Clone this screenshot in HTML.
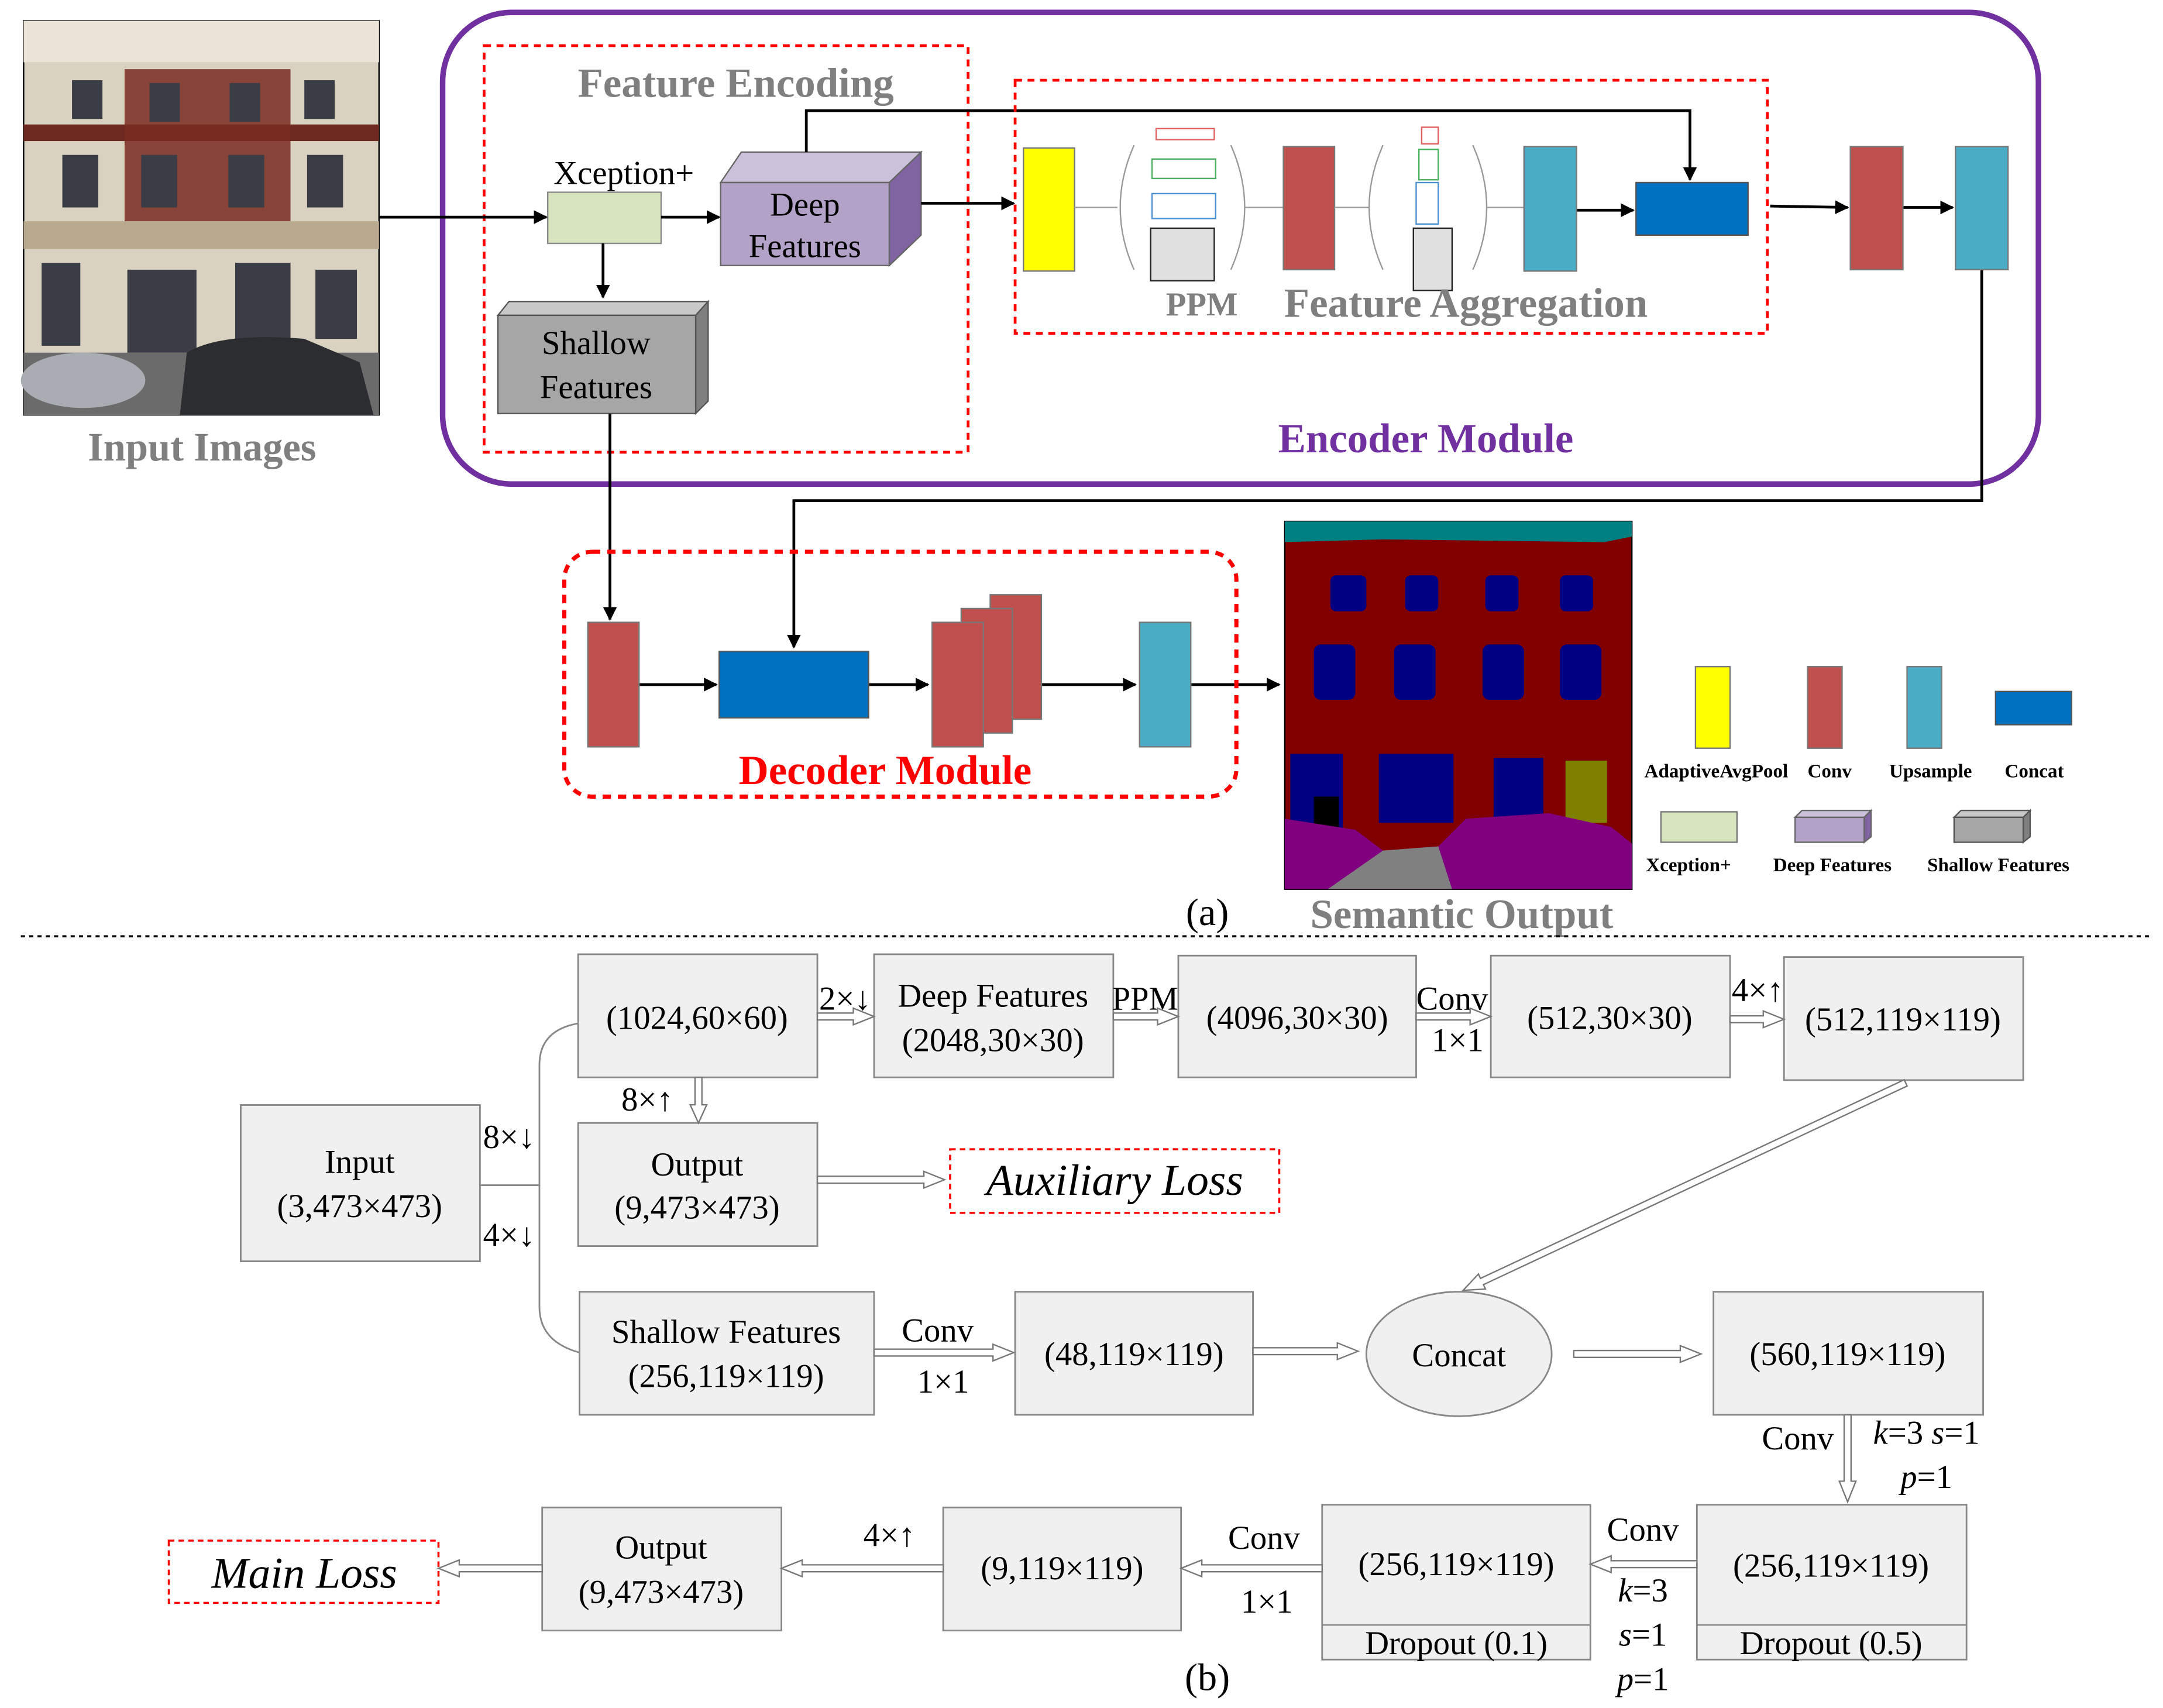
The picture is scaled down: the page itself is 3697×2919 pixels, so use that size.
<!DOCTYPE html>
<html><head><meta charset="utf-8"><style>
html,body{margin:0;padding:0;background:#fff}
svg{display:block}
text{font-family:"Liberation Serif",serif}
</style></head><body>
<svg id="s" width="3697" height="2919" viewBox="0 0 1564 1235" xmlns="http://www.w3.org/2000/svg">
<defs>
<marker id="ah" markerWidth="10" markerHeight="10" refX="9" refY="5" orient="auto" markerUnits="userSpaceOnUse" viewBox="0 0 10 10"><path d="M0,0 L10,5 L0,10 Z" fill="#000"/></marker>
</defs>
<rect width="1564" height="1235" fill="#fff"/>
<!-- Input image -->
<g>
<rect x="17" y="15" width="257" height="285" fill="#d9d2c0" stroke="#000"/>
<rect x="17" y="15" width="257" height="30" fill="#e9e4d6"/>
<rect x="17" y="90" width="257" height="12" fill="#6e2a20"/>
<rect x="90" y="50" width="120" height="110" fill="#7a2b22" opacity="0.85"/>
<rect x="17" y="160" width="257" height="20" fill="#b8a98f"/>
<g fill="#3a3d45">
<rect x="52" y="58" width="22" height="28"/><rect x="108" y="60" width="22" height="28"/><rect x="166" y="60" width="22" height="28"/><rect x="220" y="58" width="22" height="28"/>
<rect x="45" y="112" width="26" height="38"/><rect x="102" y="112" width="26" height="38"/><rect x="165" y="112" width="26" height="38"/><rect x="222" y="112" width="26" height="38"/>
<rect x="30" y="190" width="28" height="60"/><rect x="92" y="195" width="50" height="60"/><rect x="170" y="190" width="40" height="60"/><rect x="228" y="195" width="30" height="50"/>
</g>
<rect x="17" y="255" width="257" height="45" fill="#6b6b6b"/>
<ellipse cx="60" cy="275" rx="45" ry="20" fill="#a9adb3"/>
<path d="M130,300 L135,255 Q160,240 220,245 L260,262 L270,300 Z" fill="#2b2d30"/>
</g>
<text x="146" y="333" font-size="29" font-weight="bold" fill="#7f7f7f" text-anchor="middle">Input Images</text>
<!-- Encoder -->
<rect x="320" y="9" width="1154" height="341" rx="50" fill="none" stroke="#7030a0" stroke-width="4"/>
<rect x="350" y="33" width="350" height="294" fill="none" stroke="#ff0000" stroke-width="2" stroke-dasharray="5,4"/>
<text x="532" y="70" font-size="30" font-weight="bold" fill="#7f7f7f" text-anchor="middle">Feature Encoding</text>
<text x="451" y="133" font-size="24" text-anchor="middle">Xception+</text>
<rect x="396" y="139" width="82" height="37" fill="#d7e4bd" stroke="#8a8a8a"/>
<polygon points="521,132 536,110 666,110 643,132" fill="#ccc1da" stroke="#666"/>
<polygon points="643,132 666,110 666,170 643,192" fill="#8064a2" stroke="#666"/>
<rect x="521" y="132" width="122" height="60" fill="#b3a2c7" stroke="#666"/>
<text x="582" y="156" font-size="24" text-anchor="middle">Deep</text>
<text x="582" y="186" font-size="24" text-anchor="middle">Features</text>
<polygon points="360,228 368,218 512,218 503,228" fill="#c8c8c8" stroke="#555"/>
<polygon points="503,228 512,218 512,290 503,299" fill="#7f7f7f" stroke="#555"/>
<rect x="360" y="228" width="143" height="71" fill="#a6a6a6" stroke="#555"/>
<text x="431" y="256" font-size="24" text-anchor="middle">Shallow</text>
<text x="431" y="288" font-size="24" text-anchor="middle">Features</text>
<g stroke="#000" stroke-width="2" fill="none" marker-end="url(#ah)">
<line x1="274" y1="157" x2="395" y2="157"/>
<line x1="478" y1="157" x2="520" y2="157"/>
<line x1="436" y1="176" x2="436" y2="215"/>
<line x1="666" y1="147" x2="733" y2="147"/>
<polyline points="583,110 583,80 1222,80 1222,130"/>
<line x1="441" y1="299" x2="441" y2="448"/>
<line x1="1140" y1="152" x2="1181" y2="152"/>
<line x1="1280" y1="149" x2="1336" y2="150"/>
<line x1="1376" y1="150" x2="1412" y2="150"/>
<polyline points="1433,195 1433,362 574,362 574,468"/>
<line x1="462" y1="495" x2="518" y2="495"/>
<line x1="628" y1="495" x2="671" y2="495"/>
<line x1="753" y1="495" x2="821" y2="495"/>
<line x1="861" y1="495" x2="925" y2="495"/>
</g>
<rect x="734" y="58" width="544" height="183" fill="none" stroke="#ff0000" stroke-width="2" stroke-dasharray="5,4"/>
<rect x="740" y="107" width="37" height="89" fill="#ffff00" stroke="#777"/>
<line x1="777" y1="150" x2="808" y2="150" stroke="#999"/>
<path d="M820,105 Q800,150 820,195 M890,105 Q910,150 890,195" fill="none" stroke="#999"/>
<rect x="836" y="93" width="42" height="8" fill="#fff" stroke="#e06060"/>
<rect x="833" y="115" width="46" height="14" fill="#fff" stroke="#4caf60"/>
<rect x="833" y="140" width="46" height="18" fill="#fff" stroke="#4a90d0"/>
<rect x="832" y="165" width="46" height="38" fill="#e0e0e0" stroke="#222"/>
<line x1="900" y1="150" x2="928" y2="150" stroke="#999"/>
<rect x="928" y="106" width="37" height="89" fill="#c0504d" stroke="#777"/>
<line x1="965" y1="150" x2="990" y2="150" stroke="#999"/>
<path d="M1000,105 Q980,150 1000,195 M1065,105 Q1085,150 1065,195" fill="none" stroke="#999"/>
<rect x="1028" y="92" width="12" height="12" fill="#fff" stroke="#e06060"/>
<rect x="1026" y="108" width="14" height="22" fill="#fff" stroke="#4caf60"/>
<rect x="1024" y="132" width="16" height="30" fill="#fff" stroke="#4a90d0"/>
<rect x="1022" y="165" width="28" height="45" fill="#e0e0e0" stroke="#222"/>
<line x1="1075" y1="150" x2="1102" y2="150" stroke="#999"/>
<rect x="1102" y="106" width="38" height="90" fill="#4bacc6" stroke="#777"/>
<rect x="1183" y="132" width="81" height="38" fill="#0070c0" stroke="#555"/>
<rect x="1338" y="106" width="38" height="89" fill="#c0504d" stroke="#777"/>
<rect x="1414" y="106" width="38" height="89" fill="#4bacc6" stroke="#777"/>
<text x="869" y="228" font-size="24" font-weight="bold" fill="#7f7f7f" text-anchor="middle">PPM</text>
<text x="1060" y="229" font-size="30" font-weight="bold" fill="#7f7f7f" text-anchor="middle">Feature Aggregation</text>
<text x="1031" y="327" font-size="30" font-weight="bold" fill="#7030a0" text-anchor="middle">Encoder Module</text>
<!-- Decoder -->
<rect x="408" y="399" width="486" height="177" rx="20" fill="none" stroke="#ff0000" stroke-width="3" stroke-dasharray="6,5"/>
<rect x="425" y="450" width="37" height="90" fill="#c0504d" stroke="#777"/>
<rect x="520" y="471" width="108" height="48" fill="#0070c0" stroke="#555"/>
<rect x="716" y="430" width="37" height="90" fill="#c0504d" stroke="#777"/>
<rect x="695" y="440" width="37" height="90" fill="#c0504d" stroke="#777"/>
<rect x="674" y="450" width="37" height="90" fill="#c0504d" stroke="#777"/>
<rect x="824" y="450" width="37" height="90" fill="#4bacc6" stroke="#777"/>
<text x="640" y="567" font-size="30" font-weight="bold" fill="#ff0000" text-anchor="middle">Decoder Module</text>
<!-- Semantic output -->
<rect x="929" y="377" width="251" height="266" fill="#800000" stroke="#000"/>
<polygon points="929,377 1180,377 1180,388 1160,392 1000,390 929,392" fill="#008080"/>
<g fill="#000080">
<rect x="962" y="416" width="26" height="26" rx="4"/><rect x="1016" y="416" width="24" height="26" rx="4"/><rect x="1074" y="416" width="24" height="26" rx="4"/><rect x="1128" y="416" width="24" height="26" rx="4"/>
<rect x="950" y="466" width="30" height="40" rx="5"/><rect x="1008" y="466" width="30" height="40" rx="5"/><rect x="1072" y="466" width="30" height="40" rx="5"/><rect x="1128" y="466" width="30" height="40" rx="5"/>
<rect x="933" y="545" width="38" height="55"/><rect x="997" y="545" width="54" height="50"/><rect x="1080" y="548" width="36" height="45"/>
</g>
<rect x="1132" y="550" width="30" height="45" fill="#808000"/>
<rect x="950" y="576" width="18" height="28" fill="#000"/>
<path d="M929,592 L980,600 L1000,615 L1040,612 L1060,592 L1120,588 L1165,598 L1180,610 L1180,643 L929,643 Z" fill="#800080"/>
<path d="M960,643 L1000,615 L1040,612 L1050,643 Z" fill="#808080"/>
<text x="1057" y="671" font-size="30" font-weight="bold" fill="#7f7f7f" text-anchor="middle">Semantic Output</text>
<text x="873" y="669" font-size="28" text-anchor="middle">(a)</text>
<!-- Legend -->
<rect x="1226" y="482" width="25" height="59" fill="#ffff00" stroke="#777"/>
<rect x="1307" y="482" width="25" height="59" fill="#c0504d" stroke="#777"/>
<rect x="1379" y="482" width="25" height="59" fill="#4bacc6" stroke="#777"/>
<rect x="1443" y="500" width="55" height="24" fill="#0070c0" stroke="#555"/>
<g font-size="14" font-weight="bold" text-anchor="middle">
<text x="1241" y="562">AdaptiveAvgPool</text><text x="1323" y="562">Conv</text><text x="1396" y="562">Upsample</text><text x="1471" y="562">Concat</text>
<text x="1221" y="630">Xception+</text><text x="1325" y="630">Deep Features</text><text x="1445" y="630">Shallow Features</text>
</g>
<rect x="1201" y="587" width="55" height="22" fill="#d7e4bd" stroke="#777"/>
<polygon points="1298,591 1303,586 1353,586 1348,591" fill="#ccc1da" stroke="#666"/>
<polygon points="1348,591 1353,586 1353,605 1348,609" fill="#8064a2" stroke="#666"/>
<rect x="1298" y="591" width="50" height="18" fill="#b3a2c7" stroke="#666"/>
<polygon points="1413,591 1418,586 1468,586 1463,591" fill="#c8c8c8" stroke="#555"/>
<polygon points="1463,591 1468,586 1468,605 1463,609" fill="#7f7f7f" stroke="#555"/>
<rect x="1413" y="591" width="50" height="18" fill="#a6a6a6" stroke="#555"/>
<line x1="15" y1="677" x2="1555" y2="677" stroke="#000" stroke-width="1.5" stroke-dasharray="3,3"/>
<!-- (b) -->
<g fill="#f0f0f0" stroke="#888" stroke-width="1.2">
<rect x="174" y="799" width="173" height="113"/>
<rect x="418" y="690" width="173" height="89"/>
<rect x="632" y="690" width="173" height="89"/>
<rect x="852" y="691" width="172" height="88"/>
<rect x="1078" y="691" width="173" height="88"/>
<rect x="1290" y="692" width="173" height="89"/>
<rect x="418" y="812" width="173" height="89"/>
<rect x="419" y="934" width="213" height="89"/>
<rect x="734" y="934" width="172" height="89"/>
<ellipse cx="1055" cy="979" rx="67" ry="45"/>
<rect x="1239" y="934" width="195" height="89"/>
<rect x="1227" y="1088" width="195" height="112"/>
<rect x="956" y="1088" width="194" height="112"/>
<rect x="682" y="1090" width="172" height="89"/>
<rect x="392" y="1090" width="173" height="89"/>
</g>
<line x1="1227" y1="1175" x2="1422" y2="1175" stroke="#888"/>
<line x1="956" y1="1175" x2="1150" y2="1175" stroke="#888"/>
<g fill="none" stroke="#888" stroke-width="1.2">
<line x1="347" y1="857" x2="390" y2="857"/>
<path d="M418,740 Q390,745 390,770 L390,945 Q390,970 419,978"/>
</g>
<rect x="687" y="831" width="238" height="46" fill="none" stroke="#ff0000" stroke-width="1.5" stroke-dasharray="4,3"/>
<rect x="122" y="1114" width="195" height="45" fill="none" stroke="#ff0000" stroke-width="1.5" stroke-dasharray="4,3"/>
<g font-size="24" text-anchor="middle">
<text x="260" y="848">Input</text><text x="260" y="880">(3,473×473)</text>
<text x="504" y="744">(1024,60×60)</text>
<text x="718" y="728">Deep Features</text><text x="718" y="760">(2048,30×30)</text>
<text x="938" y="744">(4096,30×30)</text>
<text x="1164" y="744">(512,30×30)</text>
<text x="1376" y="745">(512,119×119)</text>
<text x="504" y="850">Output</text><text x="504" y="881">(9,473×473)</text>
<text x="525" y="971">Shallow Features</text><text x="525" y="1003">(256,119×119)</text>
<text x="820" y="987">(48,119×119)</text>
<text x="1055" y="988">Concat</text>
<text x="1336" y="987">(560,119×119)</text>
<text x="1324" y="1140">(256,119×119)</text><text x="1324" y="1196">Dropout (0.5)</text>
<text x="1053" y="1139">(256,119×119)</text><text x="1053" y="1196">Dropout (0.1)</text>
<text x="768" y="1142">(9,119×119)</text>
<text x="478" y="1127">Output</text><text x="478" y="1159">(9,473×473)</text>
<text x="368" y="830">8×↓</text><text x="368" y="901">4×↓</text>
<text x="611" y="730">2×↓</text><text x="828" y="730">PPM</text>
<text x="1050" y="730">Conv</text><text x="1054" y="760">1×1</text>
<text x="1271" y="724">4×↑</text><text x="468" y="803">8×↑</text>
<text x="678" y="970">Conv</text><text x="682" y="1007">1×1</text>
<text x="1300" y="1048">Conv</text>
<text x="1188" y="1114">Conv</text>
<text x="914" y="1120">Conv</text><text x="916" y="1166">1×1</text>
<text x="643" y="1118">4×↑</text>
<text x="873" y="1222" font-size="28">(b)</text>
</g>
<g font-size="24" text-anchor="middle" font-style="italic">
<text x="1393" y="1044">k<tspan font-style="normal">=3 </tspan>s<tspan font-style="normal">=1</tspan></text>
<text x="1393" y="1076">p<tspan font-style="normal">=1</tspan></text>
<text x="1188" y="1158">k<tspan font-style="normal">=3</tspan></text>
<text x="1188" y="1190">s<tspan font-style="normal">=1</tspan></text>
<text x="1188" y="1222">p<tspan font-style="normal">=1</tspan></text>
<text x="806" y="864" font-size="32">Auxiliary Loss</text>
<text x="220" y="1148" font-size="32">Main Loss</text>
</g>
<g id="arrows"></g>
</svg>
<script>
var A=[[591,735,632,735],[805,735,852,735],[1024,735,1078,735],[1251,737,1290,737],[505,779,505,812],[591,853,683,853],[632,978,733,978],[906,977,982,977],[1138,979,1230,979],[1378,783,1058,933],[1336,1023,1336,1086],[1227,1131,1150,1131],[956,1134,854,1134],[682,1134,565,1134],[392,1134,317,1134]];
var g=document.getElementById('arrows'),ns='http://www.w3.org/2000/svg';
A.forEach(function(a){var dx=a[2]-a[0],dy=a[3]-a[1],L=Math.sqrt(dx*dx+dy*dy),ang=Math.atan2(dy,dx)*180/Math.PI;var h=Math.min(15,L*0.4);
var p=document.createElementNS(ns,'polygon');p.setAttribute('points',[0,-2.5,L-h,-2.5,L-h,-6,L,0,L-h,6,L-h,2.5,0,2.5].join(' ').replace(/(\S+) (\S+)/g,'$1,$2'));
p.setAttribute('fill','#fff');p.setAttribute('stroke','#777');p.setAttribute('stroke-width','1');p.setAttribute('transform','translate('+a[0]+','+a[1]+') rotate('+ang+')');g.appendChild(p);});
</script>
</body></html>
